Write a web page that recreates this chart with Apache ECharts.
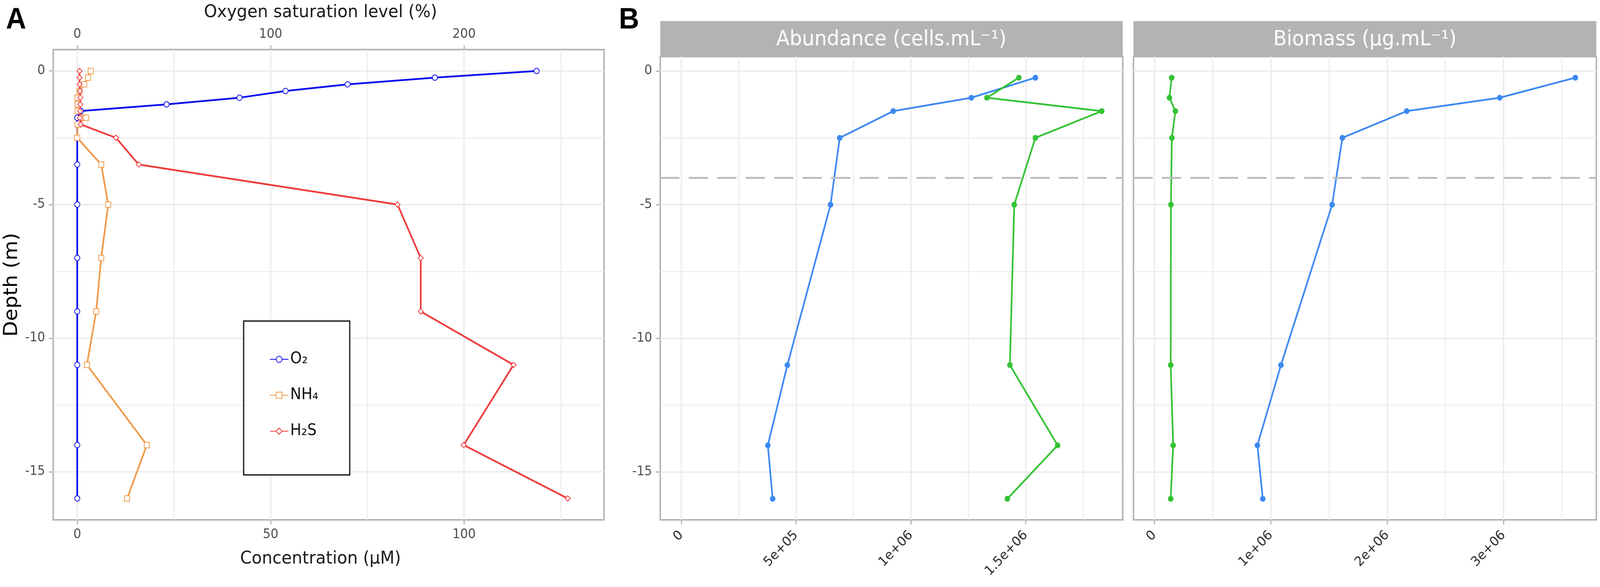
<!DOCTYPE html>
<html>
<head>
<meta charset="utf-8">
<script src="https://cdn.jsdelivr.net/npm/echarts@6/dist/echarts.min.js"></script>
<style>
html, body { margin: 0; padding: 0; background: #fff; overflow: hidden; }
#main { width: 4328px; height: 1503px; transform-origin: 0 0; }
</style>
</head>
<body>
<div id="main"></div>
<script>
// ---- panel A : chemistry profile (depth in m) ----
var depthA = [0, -0.25, -0.5, -0.75, -1, -1.25, -1.5, -1.75, -2, -2.5, -3.5, -5, -7, -9, -11, -14, -16];
var o2Sat  = [237.5, 184.9, 139.8, 107.7, 83.9, 46.2, 1.9, 0, null, null, 0, 0, 0, 0, 0, 0, 0]; // %
var nh4    = [3.5, 2.8, 1.8, 0.6, 0.1, 0.1, 0.1, 2.3, 0.1, 0, 6.2, 8.0, 6.2, 4.9, 2.5, 18.0, 12.9]; // uM
var h2s    = [0.6, 0.6, 0.6, 0.7, 0.8, 0.8, 0.7, 0.7, 0.9, 10.0, 15.9, 82.8, 88.8, 88.8, 112.8, 99.9, 126.8]; // uM

// ---- panel B : abundance / biomass, two groups ----
var depthB       = [-0.25, -1, -1.5, -2.5, -5, -11, -14, -16];
var abundBlue    = [1.542e6, 1.263e6, 0.923e6, 0.690e6, 0.650e6, 0.462e6, 0.377e6, 0.398e6];
var abundGreen   = [1.470e6, 1.331e6, 1.831e6, 1.542e6, 1.450e6, 1.431e6, 1.639e6, 1.420e6];
var biomassBlue  = [3.617e6, 2.967e6, 2.168e6, 1.615e6, 1.527e6, 1.087e6, 0.885e6, 0.931e6];
var biomassGreen = [0.148e6, 0.129e6, 0.180e6, 0.150e6, 0.142e6, 0.140e6, 0.161e6, 0.140e6];
var thermocline  = -4;

// ---- ticks ----
var ticksConc      = [0, 50, 100];
var minorConc      = [25, 75, 125];
var ticksSat       = [0, 100, 200];
var ticksDepth     = [0, -5, -10, -15];
var minorDepth     = [-2.5, -7.5, -12.5];
var ticksAbund     = [0, 5e5, 1e6, 1.5e6];
var minorAbund     = [2.5e5, 7.5e5, 1.25e6, 1.75e6];
var ticksBiomass   = [0, 1e6, 2e6, 3e6];
var minorBiomass   = [5e5, 1.5e6, 2.5e6, 3.5e6];

var FONT = 'DejaVu Sans';
var GRID_C = '#EBEBEB';
var BORDER_C = '#B3B3B3';

// the page is drawn at 4328x1503; squeeze it if the window is smaller
var box = document.getElementById('main');
var sx = Math.min(1, window.innerWidth / 4328), sy = Math.min(1, window.innerHeight / 1503);
if (sx < 1 || sy < 1) box.style.transform = 'scale(' + sx + ',' + sy + ')';

function pairs(xs, ys) {
    var out = [];
    for (var i = 0; i < ys.length; i++) {
        if (xs[i] == null) continue;
        out.push([xs[i], ys[i]]);
    }
    return out;
}

// R style scientific labels: 5e+05, 1.5e+06
function sci(v) {
    if (v === 0) return '0';
    var e = Math.floor(Math.log10(Math.abs(v)));
    var m = +(v / Math.pow(10, e)).toFixed(3);
    return m + 'e+' + (e < 10 ? '0' : '') + e;
}

// invisible axis that only draws minor grid lines
function minorAxis(gridIndex, min, max, values, pos) {
    return {
        type: 'value', gridIndex: gridIndex, min: min, max: max, position: pos,
        axisLine: {show: false, onZero: false},
        axisTick: {show: false, customValues: values},
        axisLabel: {show: false, customValues: values},
        splitLine: {show: true, lineStyle: {color: GRID_C, width: 2.5}}
    };
}

function majorAxis(gridIndex, min, max, values, pos, extra) {
    var a = {
        type: 'value', gridIndex: gridIndex, min: min, max: max, position: pos,
        axisLine: {show: false, onZero: false},
        axisTick: {show: true, customValues: values, length: 12, lineStyle: {color: BORDER_C, width: 3}},
        axisLabel: {show: true, customValues: values, fontFamily: FONT, fontSize: 33, color: '#4D4D4D', margin: 22},
        splitLine: {show: true, lineStyle: {color: GRID_C, width: 3.5}}
    };
    for (var k in extra) a[k] = extra[k];
    return a;
}

var chart = echarts.init(box);

var option = {
    backgroundColor: '#fff',
    animation: false,
    grid: [
        {left: 144, top: 127, width: 1490, height: 1204, show: true, borderColor: BORDER_C, borderWidth: 4},
        {left: 1786, top: 145, width: 1251, height: 1186, show: true, borderColor: BORDER_C, borderWidth: 4},
        {left: 3066, top: 145, width: 1252, height: 1186, show: true, borderColor: BORDER_C, borderWidth: 4}
    ],
    xAxis: [
        majorAxis(0, -6.2, 136.2, ticksConc, 'bottom', {
            name: 'Concentration (µM)', nameLocation: 'middle', nameGap: 78,
            nameTextStyle: {fontFamily: FONT, fontSize: 45, color: '#1a1a1a', padding: [0, 44, 0, 0]}
        }),
        minorAxis(0, -6.2, 136.2, minorConc, 'bottom'),
        majorAxis(0, -12.4, 272.4, ticksSat, 'top', {
            name: 'Oxygen saturation level (%)', nameLocation: 'middle', nameGap: 72,
            nameTextStyle: {fontFamily: FONT, fontSize: 45, color: '#1a1a1a', padding: [0, 44, 0, 0]},
            splitLine: {show: false}
        }),
        majorAxis(1, -91500, 1922500, ticksAbund, 'bottom', {}),
        minorAxis(1, -91500, 1922500, minorAbund, 'bottom'),
        majorAxis(2, -180000, 3797000, ticksBiomass, 'bottom', {}),
        minorAxis(2, -180000, 3797000, minorBiomass, 'bottom')
    ],
    yAxis: [
        majorAxis(0, -16.8, 0.8, ticksDepth, 'left', {
            name: 'Depth (m)', nameLocation: 'middle', nameGap: 86,
            nameTextStyle: {fontFamily: FONT, fontSize: 52, color: '#000'}
        }),
        minorAxis(0, -16.8, 0.8, minorDepth, 'left'),
        majorAxis(1, -16.7875, 0.5375, ticksDepth, 'left', {}),
        minorAxis(1, -16.7875, 0.5375, minorDepth, 'left'),
        majorAxis(2, -16.7875, 0.5375, ticksDepth, 'left', {}),
        minorAxis(2, -16.7875, 0.5375, minorDepth, 'left')
    ],
    legend: {
        data: ['O₂', 'NH₄', 'H₂S'],
        orient: 'vertical',
        left: 659, top: 822,
        padding: [78, 85, 92, 70],
        itemGap: 52, itemWidth: 50, itemHeight: 20,
        borderColor: '#000', borderWidth: 3, backgroundColor: '#fff',
        textStyle: {fontFamily: FONT, fontSize: 40, color: '#111'}
    },
    graphic: [
        {type: 'text', left: 16, top: 14, style: {text: 'A', font: 'bold 76px "Liberation Sans"', fill: '#000'}},
        {type: 'text', left: 1674, top: 14, style: {text: 'B', font: 'bold 76px "Liberation Sans"', fill: '#000'}},
        {type: 'rect', shape: {x: 1786, y: 54, width: 1251, height: 91}, style: {fill: '#B3B3B3'}},
        {type: 'rect', shape: {x: 3066, y: 54, width: 1252, height: 91}, style: {fill: '#B3B3B3'}},
        {type: 'text', x: 2411, y: 102, style: {text: 'Abundance (cells.mL⁻¹)', font: '53px "DejaVu Sans"', fill: '#fff', textAlign: 'center', textVerticalAlign: 'middle'}},
        {type: 'text', x: 3692, y: 102, style: {text: 'Biomass (µg.mL⁻¹)', font: '53px "DejaVu Sans"', fill: '#fff', textAlign: 'center', textVerticalAlign: 'middle'}}
    ],
    series: []
};

// B panels: x labels rotated, y labels only on the first facet
[3, 5].forEach(function (i) {
    option.xAxis[i].axisLabel.rotate = 45;
    option.xAxis[i].axisLabel.formatter = sci;
    option.xAxis[i].axisLabel.color = '#2b2b2b';
    option.xAxis[i].axisLabel.fontSize = 34;
    option.xAxis[i].axisLabel.margin = 34;
});
option.yAxis[4].axisLabel.show = false;
option.yAxis[4].axisTick.show = false;

function lineA(name, xs, color, symbol, xIdx) {
    return {
        name: name, type: 'line', xAxisIndex: xIdx, yAxisIndex: 0,
        data: pairs(xs, depthA),
        symbol: symbol, symbolSize: 14,
        lineStyle: {color: color, width: 4.5},
        itemStyle: {color: color, borderWidth: 3},
        z: 3
    };
}

function lineB(name, xs, color, xIdx, yIdx, withMark) {
    var s = {
        name: name, type: 'line', xAxisIndex: xIdx, yAxisIndex: yIdx,
        data: pairs(xs, depthB),
        symbol: 'circle', symbolSize: 15,
        lineStyle: {color: color, width: 4.5},
        itemStyle: {color: color},
        z: 3
    };
    if (withMark) {
        s.markLine = {
            silent: true, symbol: ['none', 'none'], label: {show: false},
            lineStyle: {color: '#BDBDBD', width: 5, type: [52, 25]},
            data: [{yAxis: thermocline}]
        };
    }
    return s;
}

option.series = [
    lineA('O₂', o2Sat, '#0A0AEE', 'emptyCircle', 2),
    lineA('NH₄', nh4, '#F0994A', 'emptyRect', 0),
    lineA('H₂S', h2s, '#EE3B3B', 'emptyDiamond', 0),
    lineB('Abundance group 1', abundBlue, '#3C88F2', 3, 2, true),
    lineB('Abundance group 2', abundGreen, '#33C233', 3, 2, false),
    lineB('Biomass group 1', biomassBlue, '#3C88F2', 5, 4, true),
    lineB('Biomass group 2', biomassGreen, '#33C233', 5, 4, false)
];

chart.setOption(option);
</script>
</body>
</html>
